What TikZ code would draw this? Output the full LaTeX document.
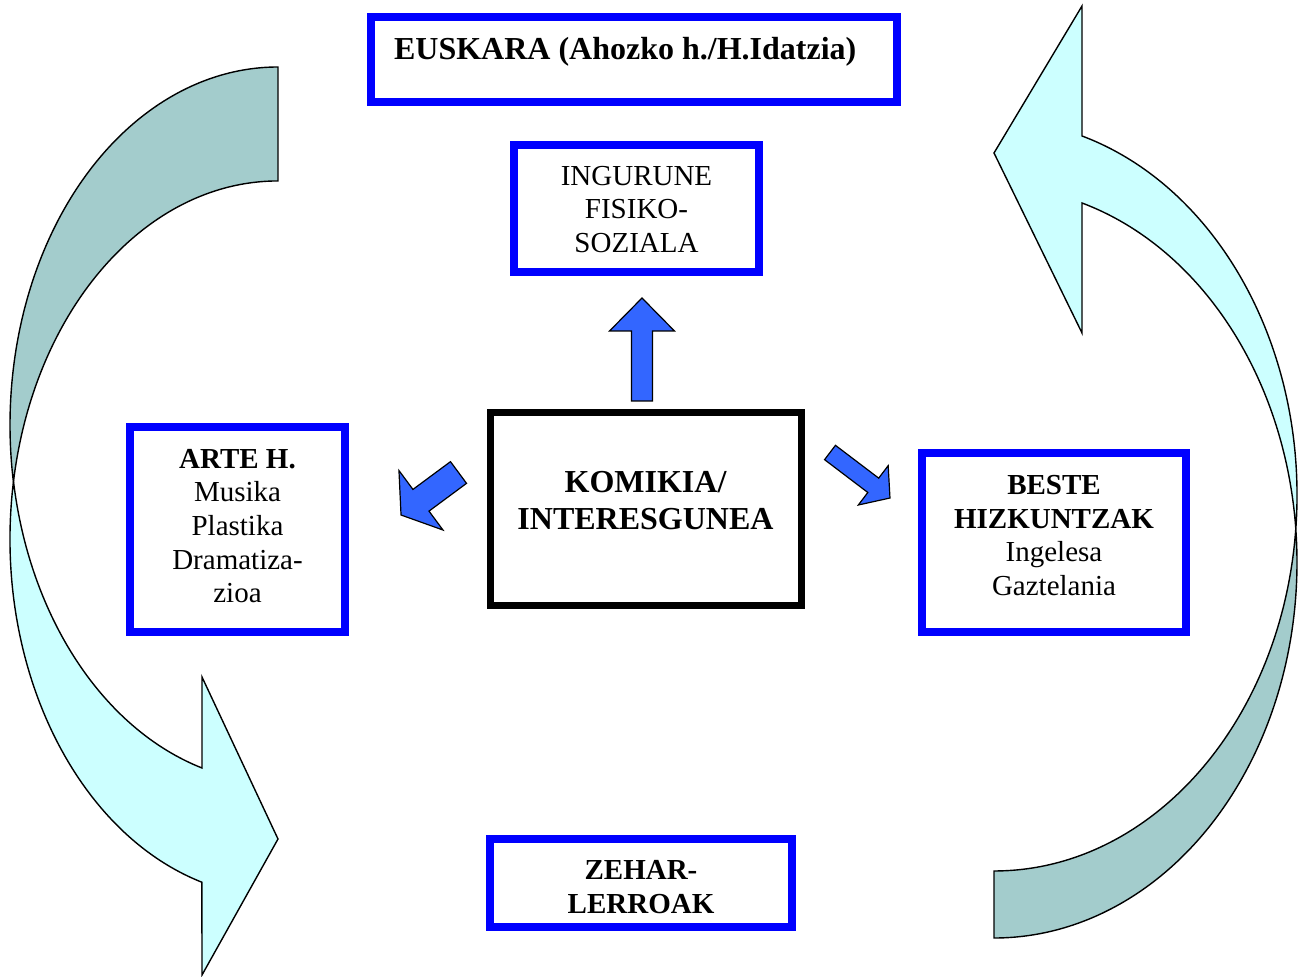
\documentclass[tikz,border=0pt]{standalone}
\usepackage{fontspec}
\setmainfont{Liberation Serif}
\definecolor{boxblue}{RGB}{0,0,255}
\definecolor{arrowblue}{RGB}{51,102,255}
\definecolor{bandfront}{RGB}{204,255,255}
\definecolor{bandback}{RGB}{163,204,204}
\begin{document}
\begin{tikzpicture}[x=0.5pt,y=0.5pt,
	bluebox/.style={draw=boxblue,line width=4pt,fill=white,inner sep=0pt},
	blackbox/.style={draw=black,line width=3.5pt,fill=white,inner sep=0pt},
	boxtext/.style={align=center,font=\fontsize{14.5}{16.8}\selectfont},
	headtext/.style={align=center,font=\fontsize{16}{18.3}\selectfont\bfseries},
	band/.style={draw=black,line width=0.7pt},
	blockarrow/.style={draw=black,line width=0.6pt,fill=arrowblue}]
	\useasboundingbox (0,0) rectangle (1300,-977);
	%左弯箭头
	\filldraw[band,fill=bandback] (278,-67) arc[start angle=90,end angle=189.16,x radius=134pt,y radius=179pt]
		arc[start angle=170.84,end angle=90,x radius=134pt,y radius=179pt] -- cycle;
	\filldraw[band,fill=bandfront] (13.42,-482) arc[start angle=170.84,end angle=253.5,x radius=134pt,y radius=179pt]
		-- (202,-975) -- (278,-839) -- (202,-677) -- (202,-768)
		arc[start angle=253.5,end angle=189.16,x radius=134pt,y radius=179pt] -- cycle;
	%右弯箭头
	\filldraw[band,fill=bandback] (994,-938) arc[start angle=-90,end angle=5.12,x radius=151.5pt,y radius=187.8pt]
		arc[start angle=-5.12,end angle=-90,x radius=151.5pt,y radius=187.8pt] -- cycle;
	\filldraw[band,fill=bandfront] (1295.8,-528.9) arc[start angle=-5.12,end angle=73.12,x radius=151.5pt,y radius=187.8pt]
		-- (1082,-6) -- (994,-153) -- (1082,-333) -- (1082,-203)
		arc[start angle=73.12,end angle=5.12,x radius=151.5pt,y radius=187.8pt] -- cycle;
	%方框
	\draw (634,-59.5) node[bluebox,minimum width=263pt,minimum height=42.5pt](euskara){};
	\draw (636.5,-208.5) node[bluebox,minimum width=122.5pt,minimum height=63.5pt](ingurune){};
	\draw (237.5,-529.5) node[bluebox,minimum width=107.5pt,minimum height=102.5pt](arte){};
	\draw (1054,-542.5) node[bluebox,minimum width=132pt,minimum height=89.5pt](beste){};
	\draw (641,-883) node[bluebox,minimum width=151pt,minimum height=44pt](zehar){};
	\draw (645.5,-509.5) node[blackbox,minimum width=155.5pt,minimum height=96.5pt](komikia){};
	%文字
	\draw (387,-60) node[headtext,anchor=base west](euskara-t){EUSKARA (Ahozko h./H.Idatzia)};
	\draw (ingurune) ++(0,-1) node[boxtext](ingurune-t){INGURUNE\\FISIKO-\\SOZIALA};
	\draw (arte) ++(0,3.5) node[boxtext](arte-t){\textbf{ARTE H.}\\Musika\\Plastika\\Dramatiza-\\zioa};
	\draw (beste) ++(0,7) node[boxtext](beste-t){\textbf{BESTE}\\\textbf{HIZKUNTZAK}\\Ingelesa\\Gaztelania};
	\draw (zehar) ++(0,-4) node[boxtext](zehar-t){\textbf{ZEHAR-}\\\textbf{LERROAK}};
	\draw (komikia) ++(0,9) node[headtext](komikia-t){KOMIKIA/\\INTERESGUNEA};
	%箭头
	\foreach \px/\py/\ang/\len/\sw/\hw/\hl in {642/-401/90/103/10.5/32.5/33, 458.5/-472.5/216.5/71.5/13.5/37/24.8, 830/-452.5/-37.2/75.3/9/24.7/21}
		\filldraw[blockarrow,shift={(\px,\py)},rotate=\ang] (0,-\sw) -- (\len-\hl,-\sw) -- (\len-\hl,-\hw) -- (\len,0) -- (\len-\hl,\hw) -- (\len-\hl,\sw) -- (0,\sw) -- cycle;
\end{tikzpicture}
\end{document}
